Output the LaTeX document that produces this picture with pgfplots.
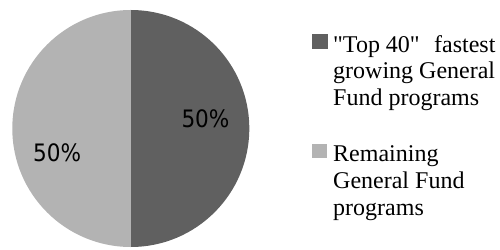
\documentclass[border=0pt]{standalone}
\usepackage{pgfplots}
\pgfplotsset{compat=1.18}
\usepackage{pgfplotstable}
\usepackage{fontspec}
\setmainfont{Liberation Serif}
\newfontfamily\labfont[FakeStretch=0.9]{DejaVu Sans}
\definecolor{darkslice}{HTML}{606060}
\definecolor{lightslice}{HTML}{B3B3B3}
\pgfplotstableread{
share
50
50
}\piedata
\begin{document}
\begin{tikzpicture}
\pgfplotstablegetelem{0}{share}\of\piedata \let\sa\pgfplotsretval
\pgfplotstablegetelem{1}{share}\of\piedata \let\sb\pgfplotsretval
\pgfmathsetmacro\tot{\sa+\sb}
\pgfmathsetmacro\aend{90-360*(\sa/\tot)}
\pgfmathsetmacro\bend{\aend-360*(\sb/\tot)}
\pgfmathtruncatemacro\pa{round(100*(\sa/\tot))}
\pgfmathtruncatemacro\pb{round(100*(\sb/\tot))}
\begin{axis}[
  x=1pt, y=1pt, xmin=0, xmax=500, ymin=0, ymax=249,
  scale only axis, hide axis, clip=false,
]
\path (axis cs:0,0) rectangle (axis cs:500,249);
% pie slices
\fill[darkslice] (axis cs:130.8,120.5) -- ++(90:118.5pt) arc[start angle=90, end angle=\aend, radius=118.5pt] -- cycle;
\fill[lightslice] (axis cs:130.8,120.5) -- ++(\aend:118.5pt) arc[start angle=\aend, end angle=\bend, radius=118.5pt] -- cycle;
% data labels
\node[font=\labfont\fontsize{24}{28}\selectfont, anchor=base west, inner sep=0pt] at (axis cs:181.3,121) {\pa\%};
\node[font=\labfont\fontsize{24}{28}\selectfont, anchor=base west, inner sep=0pt] at (axis cs:33,87.3) {\pb\%};
% legend
\fill[darkslice] (axis cs:312.3,200) rectangle (axis cs:327.7,214.7);
\fill[lightslice] (axis cs:312.3,90.7) rectangle (axis cs:327.3,104.7);
\begin{scope}[every node/.style={font=\fontsize{24}{27}\selectfont, anchor=base west, inner sep=0pt}]
\node at (axis cs:333,196.7) {\textquotedbl Top 40\textquotedbl\hspace{0.6em}fastest};
\node at (axis cs:333,170) {growing General};
\node at (axis cs:333,143.3) {Fund programs};
\node at (axis cs:333,88) {Remaining};
\node at (axis cs:333,60.7) {General Fund};
\node at (axis cs:333,34) {programs};
\end{scope}
\end{axis}
\end{tikzpicture}
\end{document}
